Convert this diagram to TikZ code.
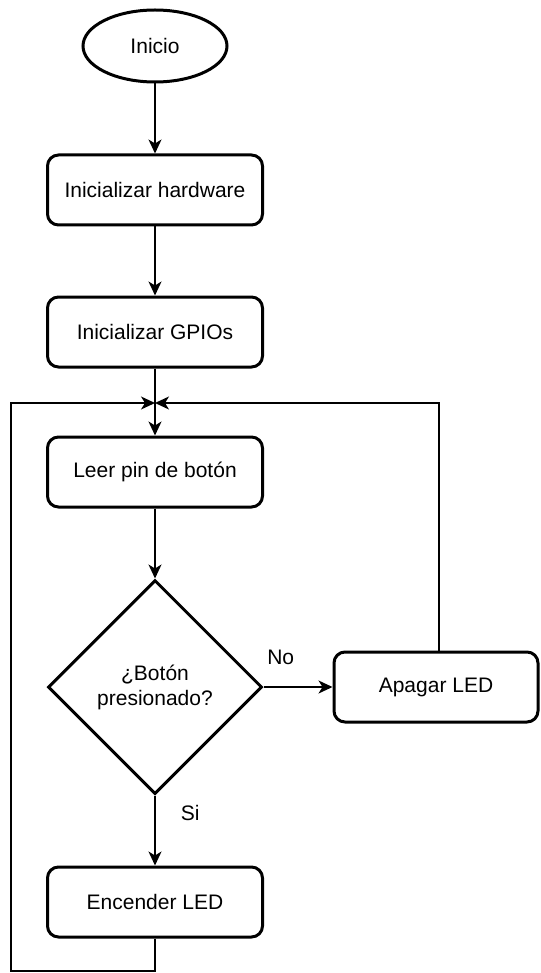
\documentclass[tikz,border=0pt]{standalone}
\usepackage{fontspec}
\setmainfont{Liberation Sans}
\usetikzlibrary{shapes.geometric,arrows.meta}

\begin{document}
\begin{tikzpicture}[x=1pt,y=-1pt,
  every node/.style={font=\fontsize{21}{25}\selectfont, align=center, inner sep=0pt},
  procbox/.style={draw, line width=3pt, rounded corners=11pt, minimum width=215pt, minimum height=70pt},
  startnode/.style={draw, ellipse, line width=3pt, minimum width=144pt, minimum height=72pt},
  decision/.style={draw, diamond, line width=3pt, minimum width=214pt, minimum height=214pt, aspect=1},
  flow/.style={line width=1.5pt, -{Stealth[length=14pt,width=13pt,inset=4pt]}},
  edgelabel/.style={font=\fontsize{21}{25}\selectfont}
]
\useasboundingbox (0,0) rectangle (540,973);

\node[startnode] (inicio) at (155,46) {Inicio};
\node[procbox] (hw) at (155,190) {Inicializar hardware};
\node[procbox] (gpio) at (155,332) {Inicializar GPIOs};
\node[procbox] (leer) at (155,472) {Leer pin de botón};
\node[decision] (dec) at (155,687) {¿Botón\\presionado?};
\node[procbox, minimum width=204pt] (apagar) at (436,687) {Apagar LED};
\node[procbox] (encender) at (155,902) {Encender LED};

\coordinate (merge) at (155,403);
\coordinate (loopL1) at (11,403);
\coordinate (loopL2) at (11,971);
\coordinate (loopB) at (155,971);
\coordinate (loopR) at (439,403);

\draw[flow] (inicio) -- (hw);
\draw[flow] (hw) -- (gpio);
\draw[flow] (gpio) -- (leer);
\draw[flow] (leer) -- (dec);
\draw[flow] (dec.east) -- node[edgelabel, above=22pt, pos=0.25] {No} (apagar.west);
\draw[flow] (dec.south) -- node[edgelabel, right=25pt, pos=0.25] {Si} (encender.north);
\draw[flow] (encender.south) -- (loopB) -- (loopL2) -- (loopL1) -- (merge);
\draw[flow] ([xshift=3pt]apagar.north) -- (loopR) -- (merge);
\end{tikzpicture}
\end{document}
